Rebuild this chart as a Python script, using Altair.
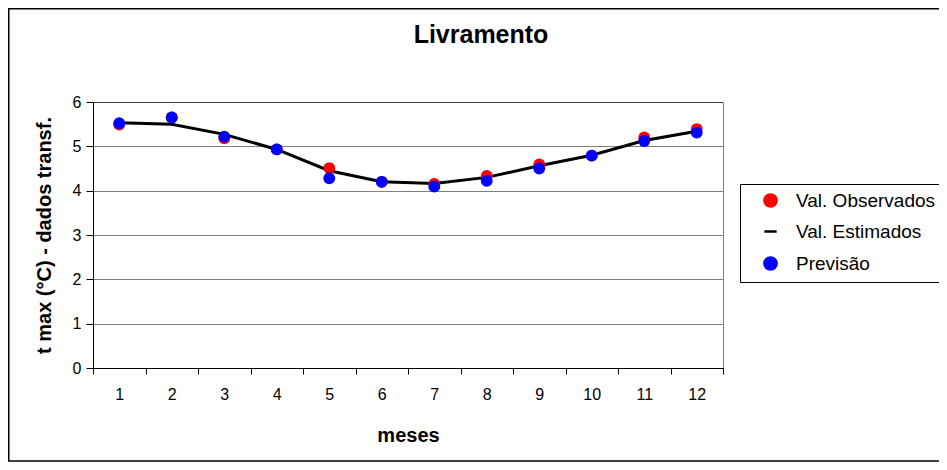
import altair as alt
import pandas as pd

meses = list(range(1, 13))
observados = [5.49, 5.65, 5.18, 4.93, 4.51, 4.20, 4.15, 4.33, 4.59, 4.79, 5.20, 5.39]
estimados = [5.53, 5.50, 5.27, 4.93, 4.45, 4.20, 4.16, 4.30, 4.56, 4.80, 5.13, 5.34]
previsao = [5.52, 5.65, 5.22, 4.93, 4.28, 4.20, 4.09, 4.22, 4.50, 4.79, 5.12, 5.31]

series_names = ["Val. Observados", "Val. Estimados", "Previsão"]
series_colors = ["#ff0000", "#000000", "#0000ff"]
series_shapes = ["circle", "stroke", "circle"]

rows = []
for name, vals in zip(series_names, [observados, estimados, previsao]):
    for m, v in zip(meses, vals):
        rows.append({"mes": m, "valor": v, "serie": name})
df = pd.DataFrame(rows)

FONT = "Liberation Sans"

x_enc = alt.X(
    "mes:O",
    scale=alt.Scale(type="band", paddingInner=0, paddingOuter=0),
    bandPosition=0.5,
    title="meses",
    axis=alt.Axis(
        labelAngle=0, tickBand="extent", tickSize=6, labelPadding=12,
        titlePadding=23, domainColor="black", tickColor="black",
        labelFontSize=16, titleFontSize=20, titleFontWeight="bold",
        grid=False,
    ),
)
y_enc = alt.Y(
    "valor:Q",
    scale=alt.Scale(domain=[0, 6], nice=False, zero=True),
    title="t max (°C) - dados transf.",
    axis=alt.Axis(
        values=[0, 1, 2, 3, 4, 5, 6], tickSize=7, labelPadding=5, titlePadding=18,
        domainColor="black", tickColor="black", labelFontSize=16,
        titleFontSize=20, titleFontWeight="bold",
        grid=True, gridColor="#000000", gridDash=[1, 1], gridWidth=1,
    ),
)
color_enc = alt.Color(
    "serie:N",
    scale=alt.Scale(domain=series_names, range=series_colors),
    title=None,
    legend=alt.Legend(
        orient="none", legendX=647, legendY=82, strokeColor="#000000",
        padding=7, labelFontSize=19, symbolSize=150, rowPadding=10,
        symbolStrokeWidth=2.5, labelLimit=400, labelOffset=16, symbolOffset=14,
    ),
)
shape_enc = alt.Shape(
    "serie:N",
    scale=alt.Scale(domain=series_names, range=series_shapes),
    title=None,
)

base = alt.Chart(df)
line = base.transform_filter(alt.datum.serie == "Val. Estimados").mark_line(
    strokeWidth=3
).encode(x=x_enc, y=y_enc, color=color_enc)
points = base.transform_filter(alt.datum.serie != "Val. Estimados").mark_point(
    filled=True, size=140, opacity=1
).encode(x=x_enc, y=y_enc, color=color_enc, shape=shape_enc)

frame = alt.Chart(pd.DataFrame({"f": [0]})).mark_rect(
    fill=None, stroke="black", strokeWidth=1.5
).encode(
    x=alt.value(-84.25), x2=alt.value(900), y=alt.value(-93.25), y2=alt.value(359)
)

chart = (
    alt.layer(frame, line, points)
    .properties(
        width=630,
        height=266,
        title=alt.Title("Livramento", fontSize=25, fontWeight="bold", font=FONT,
                        anchor="middle", dx=73, offset=-40),
        autosize=alt.AutoSizeParams(type="none"),
        padding={"left": 85, "top": 94, "right": 216, "bottom": 94},
    )
    .configure(font=FONT)
    .configure_view(stroke="#808080", strokeWidth=1)
    .configure_axis(labelFont=FONT, titleFont=FONT, labelColor="black", titleColor="black")
    .configure_legend(labelFont=FONT, labelColor="black")
)

chart.save("out.html", embed_options={"renderer": "svg", "actions": False})
